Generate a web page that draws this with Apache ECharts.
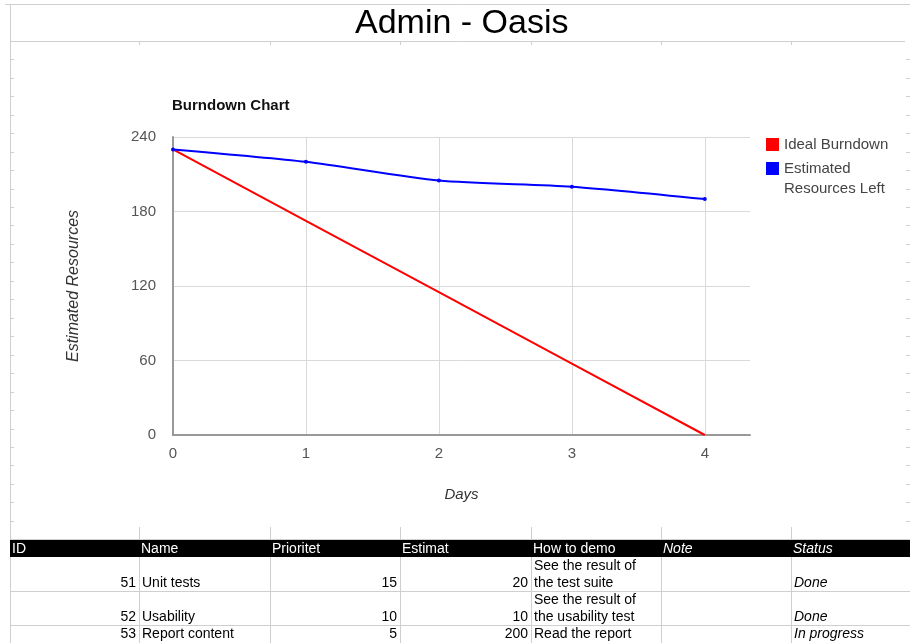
<!DOCTYPE html>
<html>
<head>
<meta charset="utf-8">
<script src="https://cdn.jsdelivr.net/npm/echarts@6/dist/echarts.min.js"></script>
<style>
html,body{margin:0;padding:0;background:#fff;}
#chart{width:910px;height:643px;}
</style>
</head>
<body>
<div id="chart"></div>
<script>
// ---- chart data ----
const sheetTitle = 'Admin - Oasis';
const chartTitle = 'Burndown Chart';
const days = [0, 1, 2, 3, 4];
const idealBurndown = [230, 172.5, 115, 57.5, 0];
const estimatedLeft = [230, 220, 205, 200, 190];
const seriesNames = ['Ideal Burndown', 'Estimated Resources Left'];
const xAxisName = 'Days';
const yAxisName = 'Estimated Resources';

// ---- table data ----
const tableHeader = ['ID', 'Name', 'Prioritet', 'Estimat', 'How to demo', 'Note', 'Status'];
const taskIds = [51, 52, 53];
const taskNames = ['Unit tests', 'Usability', 'Report content'];
const priorities = [15, 10, 5];
const estimates = [20, 10, 200];
const howToDemo = [['See the result of', 'the test suite'], ['See the result of', 'the usability test'], ['Read the report']];
const notes = ['', '', ''];
const statuses = ['Done', 'Done', 'In progress'];

// ---- layout (sheet decoration) ----
const FONT = 'Liberation Sans, Arial, sans-serif';
const colX = [10, 139, 270, 400, 531, 661, 791, 910];
const headerTop = 540, headerBottom = 557;
const rowBottoms = [591, 625, 660];
const lineGap = 16.5;

const g = [];
const gray = '#cfcfcf';
function hline(x1, x2, y, c) { g.push({type:'line', silent:true, shape:{x1, y1:y, x2, y2:y}, style:{stroke:c||gray, lineWidth:1}}); }
function vline(x, y1, y2, c) { g.push({type:'line', silent:true, shape:{x1:x, y1, x2:x, y2}, style:{stroke:c||gray, lineWidth:1}}); }
function txt(t, x, y, opts) {
  g.push({type:'text', silent:true, style:Object.assign({text:t, x, y, font:'14px ' + FONT, fill:'#000', align:'left', verticalAlign:'middle'}, opts||{})});
}

// sheet frame
hline(5, 910, 4.5);
hline(10, 905, 41.5);
vline(10.5, 4, 643);
for (let i = 1; i < colX.length - 1; i++) { vline(colX[i] + 0.5, 41, 45); vline(colX[i] + 0.5, 527, 540); }
for (let k = 0; k < 26; k++) {
  const y = Math.round(59.3 + k * 18.46) + 0.5;
  hline(10, 14, y);
  hline(906, 910, y);
}
hline(10, 910, 539.5);

// table header
g.push({type:'rect', silent:true, shape:{x:10, y:headerTop, width:900, height:headerBottom - headerTop}, style:{fill:'#000'}});
tableHeader.forEach((h, i) => {
  txt(h, colX[i] + 2, (headerTop + headerBottom) / 2 + 0.5, {fill:'#fff', font:(i >= 5 ? 'italic ' : '') + '14px ' + FONT});
});
// table body lines
rowBottoms.slice(0, 2).forEach(y => hline(10, 910, y + 0.5));
for (let i = 1; i < colX.length - 1; i++) vline(colX[i] + 0.5, headerBottom, 643);
// table body text
taskIds.forEach((id, r) => {
  const ylast = r < 2 ? rowBottoms[r] - 8 : 634;
  txt(String(id), colX[1] - 3, ylast, {align:'right'});
  txt(taskNames[r], colX[1] + 3, ylast);
  txt(String(priorities[r]), colX[3] - 3, ylast, {align:'right'});
  txt(String(estimates[r]), colX[4] - 3, ylast, {align:'right'});
  const lines = howToDemo[r];
  lines.forEach((l, j) => txt(l, colX[4] + 3, ylast - (lines.length - 1 - j) * lineGap));
  if (notes[r]) txt(notes[r], colX[5] + 3, ylast, {font:'italic 14px ' + FONT});
  txt(statuses[r], colX[6] + 3, ylast, {font:'italic 14px ' + FONT});
});

const chart = echarts.init(document.getElementById('chart'), null, {renderer:'canvas'});
chart.setOption({
  animation: false,
  backgroundColor: '#fff',
  title: [
    {text: sheetTitle, left: 355, top: 7, padding: 0, textStyle:{fontFamily:FONT, fontSize:34, fontWeight:'normal', color:'#000'}},
    {text: chartTitle, left: 172, top: 98, padding: 0, textStyle:{fontFamily:FONT, fontSize:15, fontWeight:'bold', color:'#111'}}
  ],
  legend: {
    orient: 'vertical', left: 766, top: 134.5, padding: 0, itemWidth: 13, itemHeight: 13, itemGap: -16, icon: 'rect',
    textStyle: {fontFamily: FONT, fontSize: 15, color: '#444', lineHeight: 20},
    formatter: name => name === seriesNames[1] ? ' \nEstimated\nResources Left' : name,
    data: [{name: seriesNames[0]}, {name: seriesNames[1]}]
  },
  grid: {left: 173, top: 137, width: 577, height: 298},
  xAxis: {
    type: 'value', min: 0, max: 4.34, interval: 1,
    name: xAxisName, nameLocation: 'middle', nameGap: 52,
    nameTextStyle: {fontFamily: FONT, fontStyle: 'italic', fontSize: 15, color: '#333'},
    axisLine: {show: true, onZero: false, lineStyle: {color: '#999', width: 2}},
    axisTick: {show: false},
    axisLabel: {fontFamily: FONT, fontSize: 15, color: '#555', margin: 11, showMaxLabel: false},
    splitLine: {show: true, showMinLine: false, showMaxLine: false, lineStyle: {color: '#d9d9d9'}}
  },
  yAxis: {
    type: 'value', min: 0, max: 240, interval: 60,
    name: yAxisName, nameLocation: 'middle', nameGap: 91, nameRotate: 90,
    nameTextStyle: {fontFamily: FONT, fontStyle: 'italic', fontSize: 16, color: '#333'},
    axisLine: {show: true, onZero: false, lineStyle: {color: '#999', width: 2}},
    axisTick: {show: false},
    axisLabel: {fontFamily: FONT, fontSize: 15, color: '#555', margin: 17},
    splitLine: {show: true, showMinLine: false, lineStyle: {color: '#d9d9d9'}}
  },
  series: [
    {name: seriesNames[0], type: 'line', data: days.map((d, i) => [d, idealBurndown[i]]),
     itemStyle: {color: '#ff0000'}, lineStyle: {color: '#ff0000', width: 2}, showSymbol: false, z: 3},
    {name: seriesNames[1], type: 'line', data: days.map((d, i) => [d, estimatedLeft[i]]), smooth: 0.25,
     itemStyle: {color: '#0000ff'}, lineStyle: {color: '#0000ff', width: 2}, symbol: 'circle', symbolSize: 4, showSymbol: true, z: 4}
  ],
  graphic: g
});
</script>
</body>
</html>
